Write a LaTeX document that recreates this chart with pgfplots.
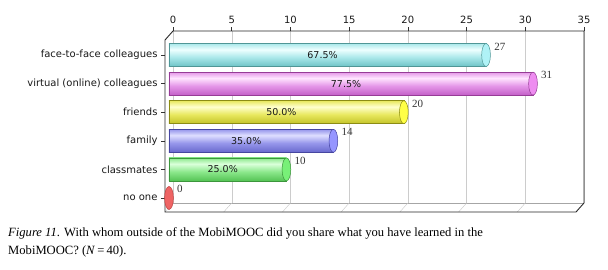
\documentclass[border=0pt]{standalone}
\usepackage{pgfplots}
\pgfplotsset{compat=1.18}
\usepackage{fontspec}
\setmainfont{Liberation Serif}
\newfontfamily\vfont{DejaVu Sans}

\definecolor{cyD}{RGB}{110,195,198}\definecolor{cyB}{RGB}{170,232,234}\definecolor{cyL}{RGB}{238,255,255}\definecolor{cyE}{RGB}{80,150,150}\definecolor{cyC}{RGB}{175,242,246}
\definecolor{mgD}{RGB}{195,95,200}\definecolor{mgB}{RGB}{228,150,232}\definecolor{mgL}{RGB}{255,228,255}\definecolor{mgE}{RGB}{150,60,150}\definecolor{mgC}{RGB}{238,140,240}
\definecolor{ywD}{RGB}{195,195,40}\definecolor{ywB}{RGB}{232,232,95}\definecolor{ywL}{RGB}{255,255,205}\definecolor{ywE}{RGB}{140,140,20}\definecolor{ywC}{RGB}{255,255,70}
\definecolor{blD}{RGB}{105,105,205}\definecolor{blB}{RGB}{150,150,235}\definecolor{blL}{RGB}{222,222,255}\definecolor{blE}{RGB}{70,70,160}\definecolor{blC}{RGB}{150,150,255}
\definecolor{gnD}{RGB}{85,195,85}\definecolor{gnB}{RGB}{140,232,140}\definecolor{gnL}{RGB}{218,255,218}\definecolor{gnE}{RGB}{60,150,60}\definecolor{gnC}{RGB}{120,240,120}
\definecolor{rdE}{RGB}{190,60,60}\definecolor{rdC}{RGB}{238,100,100}

\newcommand\cylshade[4]{\pgfdeclareverticalshading{#1}{100bp}{color(0bp)=(#2); color(25bp)=(#2); color(45bp)=(#3); color(62bp)=(#4); color(75bp)=(#3); color(100bp)=(#3)}}
\cylshade{cyS}{cyD}{cyB}{cyL}
\cylshade{mgS}{mgD}{mgB}{mgL}
\cylshade{ywS}{ywD}{ywB}{ywL}
\cylshade{blS}{blD}{blB}{blL}
\cylshade{gnS}{gnD}{gnB}{gnL}

\begin{document}
\begin{tikzpicture}
\begin{axis}[
  at={(173bp,-31bp)}, anchor=north west,
  scale only axis, width=411bp, height=172bp,
  xmin=0, xmax=35, ymin=-0.84, ymax=5.175, y dir=reverse,
  xtick={0,5,...,35}, ytick={0,...,5},
  yticklabels={face-to-face colleagues, virtual (online) colleagues, friends, family, classmates, no one},
  xtick pos=right, xticklabel pos=right, ytick pos=left,
  tick align=outside, major tick length=4bp,
  axis line style={draw=none},
  xmajorgrids, grid style={draw=black!20},
  tick style={draw=black!80, line width=0.6pt},
  ytick style={xshift=-8bp},
  yticklabel style={font=\vfont\fontsize{10bp}{12bp}\selectfont, xshift=-8bp, text=black!90},
  xticklabel style={font=\vfont\fontsize{10bp}{12bp}\selectfont, text=black!90},
  /pgf/number format/assume math mode=true,
  clip=false,
]
% bars
\addplot[xbar, bar shift=0pt, bar width=23bp, xshift=-4bp, shading=cyS, draw=cyE, line width=0.5pt] coordinates {(27,0)};
\addplot[xbar, bar shift=0pt, bar width=23bp, xshift=-4bp, shading=mgS, draw=mgE, line width=0.5pt] coordinates {(31,1)};
\addplot[xbar, bar shift=0pt, bar width=23bp, xshift=-4bp, shading=ywS, draw=ywE, line width=0.5pt] coordinates {(20,2)};
\addplot[xbar, bar shift=0pt, bar width=23bp, xshift=-4bp, shading=blS, draw=blE, line width=0.5pt] coordinates {(14,3)};
\addplot[xbar, bar shift=0pt, bar width=23bp, xshift=-4bp, shading=gnS, draw=gnE, line width=0.5pt] coordinates {(10,4)};
% end caps
\addplot[only marks, mark=*, mark size=11.5bp, xshift=-4bp, mark options={xscale=0.38, fill=cyC, draw=cyE, line width=0.5pt}] coordinates {(27,0)};
\addplot[only marks, mark=*, mark size=11.5bp, xshift=-4bp, mark options={xscale=0.38, fill=mgC, draw=mgE, line width=0.5pt}] coordinates {(31,1)};
\addplot[only marks, mark=*, mark size=11.5bp, xshift=-4bp, mark options={xscale=0.38, fill=ywC, draw=ywE, line width=0.5pt}] coordinates {(20,2)};
\addplot[only marks, mark=*, mark size=11.5bp, xshift=-4bp, mark options={xscale=0.38, fill=blC, draw=blE, line width=0.5pt}] coordinates {(14,3)};
\addplot[only marks, mark=*, mark size=11.5bp, xshift=-4bp, mark options={xscale=0.38, fill=gnC, draw=gnE, line width=0.5pt}] coordinates {(10,4)};
\addplot[only marks, mark=*, mark size=11.5bp, xshift=-4bp, mark options={xscale=0.38, fill=rdC, draw=rdE, line width=0.5pt}] coordinates {(0,5)};
% counts
\addplot[draw=none, mark=none, xshift=-4bp, point meta=x, nodes near coords,
  nodes near coords style={anchor=base west, inner sep=0pt, xshift=8bp, yshift=5bp, font=\fontsize{11bp}{13bp}\selectfont, text=black!80}]
  coordinates {(27,0) (31,1) (20,2) (14,3) (10,4) (0,5)};
% percentages
\addplot[draw=none, mark=none, point meta=explicit symbolic, nodes near coords,
  nodes near coords style={anchor=center, inner sep=0pt, xshift=-9bp, font=\vfont\fontsize{9.5bp}{11bp}\selectfont, text=black!90}]
  coordinates {(13.5,0) [67.5\%] (15.5,1) [77.5\%] (10,2) [50.0\%] (7,3) [35.0\%] (5,4) [25.0\%]};
% 3D frame
\draw[black!35] (axis cs:0,5.175) -- (axis cs:35,5.175);
\draw[black!22] (axis cs:0,5.175) -- (axis cs:-0.681,5.49);
\draw[black!22] (axis cs:5,5.175) -- (axis cs:4.319,5.49);
\draw[black!22] (axis cs:10,5.175) -- (axis cs:9.319,5.49);
\draw[black!22] (axis cs:15,5.175) -- (axis cs:14.319,5.49);
\draw[black!22] (axis cs:20,5.175) -- (axis cs:19.319,5.49);
\draw[black!22] (axis cs:25,5.175) -- (axis cs:24.319,5.49);
\draw[black!22] (axis cs:30,5.175) -- (axis cs:29.319,5.49);
\draw[black!85, line width=0.9bp] (axis cs:0,-0.84) -- (axis cs:35,-0.84) -- (axis cs:35,5.175) -- (axis cs:34.319,5.49) -- (axis cs:-0.681,5.49) -- (axis cs:-0.681,-0.525) -- cycle;
\end{axis}
\node[anchor=base west, inner sep=0pt, font=\fontsize{12.6bp}{14bp}\selectfont] at (8bp,-236bp) {\textit{Figure 11}. With whom outside of the MobiMOOC did you share what you have learned in the};
\node[anchor=base west, inner sep=0pt, font=\fontsize{12.6bp}{14bp}\selectfont] at (8bp,-254bp) {MobiMOOC? (\textit{N}\,=\,40).};
\pgfresetboundingbox
\path[use as bounding box] (0,0) rectangle (608bp,-270bp);
\end{tikzpicture}
\end{document}
